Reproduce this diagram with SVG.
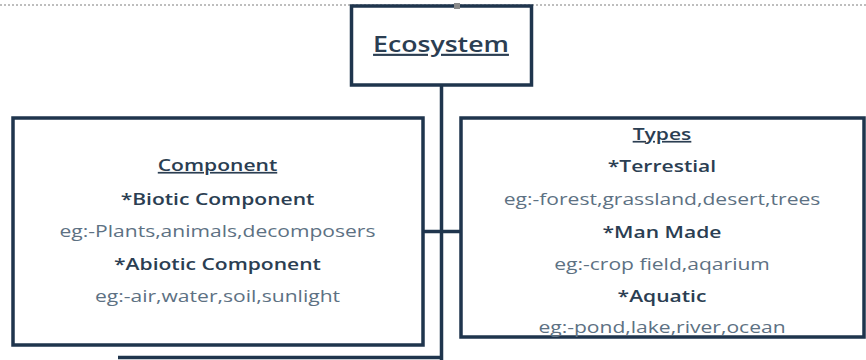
<svg xmlns="http://www.w3.org/2000/svg" width="866" height="360" viewBox="0 0 866 360">
  <style>
    .box { fill: #ffffff; stroke: #1f354d; stroke-width: 3.5; }
    .wire { fill: none; stroke: #1f354d; stroke-width: 3.5; }
    .head { font-family: "Open Sans", "Liberation Sans", sans-serif; font-size: 17px; font-weight: 600; fill: #2b3e52; text-anchor: middle; }
    .ul { text-decoration: underline; }
    .eg { font-family: "Open Sans", "Liberation Sans", sans-serif; font-size: 17px; fill: #5d7183; text-anchor: middle; }
    .title { font-family: "Open Sans", "Liberation Sans", sans-serif; font-size: 21.5px; font-weight: 600; fill: #2b3e52; text-anchor: middle; text-decoration: underline; }
  </style>

  <rect width="866" height="360" fill="#ffffff"/>

  <!-- dotted guide along the top edge -->
  <line x1="0" y1="5" x2="866" y2="5" stroke="#a9a9a9" stroke-width="1.5" stroke-dasharray="2 2"/>

  <!-- connectors -->
  <g id="connectors">
    <line class="wire" x1="441.5" y1="85" x2="441.5" y2="360"/>
    <line class="wire" x1="423" y1="231.5" x2="461" y2="231.5"/>
    <line class="wire" x1="118" y1="357.5" x2="441.5" y2="357.5"/>
  </g>

  <!-- root node -->
  <g id="ecosystem">
    <rect class="box" x="351.5" y="6" width="180" height="79"/>
    <rect x="454" y="3" width="6" height="6" fill="#8a8a8a"/>
    <g transform="translate(441,52) scale(1.24,1)">
      <text class="title" x="0" y="0">Ecosystem</text>
    </g>
  </g>

  <!-- components node -->
  <g id="component">
    <rect class="box" x="13" y="118" width="410" height="227"/>
    <g transform="translate(217.5,0) scale(1.24,1)">
      <text class="head ul" x="0" y="171">Component</text>
      <text class="head" x="0" y="205">*Biotic Component</text>
      <text class="eg" x="0" y="237">eg:-Plants,animals,decomposers</text>
      <text class="head" x="0" y="270">*Abiotic Component</text>
      <text class="eg" x="0" y="302">eg:-air,water,soil,sunlight</text>
    </g>
  </g>

  <!-- types node -->
  <g id="types">
    <rect class="box" x="461" y="118" width="403" height="219"/>
    <g transform="translate(662,0) scale(1.24,1)">
      <text class="head ul" x="0" y="140">Types</text>
      <text class="head" x="0" y="172">*Terrestial</text>
      <text class="eg" x="0" y="205">eg:-forest,grassland,desert,trees</text>
      <text class="head" x="0" y="238">*Man Made</text>
      <text class="eg" x="0" y="270">eg:-crop field,aqarium</text>
      <text class="head" x="0" y="302">*Aquatic</text>
      <text class="eg" x="0" y="333">eg:-pond,lake,river,ocean</text>
    </g>
  </g>
</svg>
